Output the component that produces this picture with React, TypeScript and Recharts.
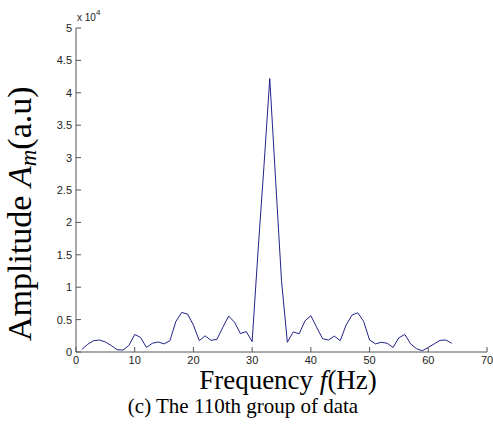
import { LineChart, Line, XAxis, YAxis } from "recharts";

// frequency bins (Hz) and amplitude values
const freqs = [
  1, 2, 3, 4, 5, 6, 7, 8, 9, 10, 11, 12, 13, 14, 15, 16, 17, 18, 19, 20, 21, 22,
  23, 24, 25, 26, 27, 28, 29, 30, 31, 32, 33, 34, 35, 36, 37, 38, 39, 40, 41, 42,
  43, 44, 45, 46, 47, 48, 49, 50, 51, 52, 53, 54, 55, 56, 57, 58, 59, 60, 61, 62,
  63, 64,
];
const amps = [
  400, 1200, 1750, 1850, 1550, 1000, 350, 300, 1000, 2700, 2250, 700, 1350, 1550,
  1250, 1750, 4700, 6100, 5850, 4150, 1750, 2500, 1800, 1950, 3800, 5550, 4600,
  2850, 3150, 1600, 15500, 28500, 42200, 26500, 11000, 1500, 3100, 2800, 4800,
  5600, 3800, 2050, 1850, 2450, 1750, 4150, 5700, 6050, 4700, 1850, 1250, 1500,
  1350, 700, 2200, 2700, 1250, 500, 200, 700, 1250, 1800, 1850, 1350,
];
const xTicks = [0, 10, 20, 30, 40, 50, 60, 70];
const yTicks = [0, 5000, 10000, 15000, 20000, 25000, 30000, 35000, 40000, 45000, 50000];

const data = freqs.map((f, i) => ({ freq: f, amp: amps[i] }));

const AXIS = "#555";
const TXT = "#222";
const TICK = 5;
const GAP = 4;
const tickFont = { fontFamily: "Liberation Sans, Arial, sans-serif", fontSize: 11 };
const serif = "Liberation Serif, Times New Roman, serif";

const BottomTick = (props: any) => {
  const { x, y, payload } = props;
  return (
    <g>
      <line x1={x} x2={x} y1={y - GAP} y2={y - GAP - TICK} stroke={AXIS} />
      <text x={x} y={y} dy="0.71em" textAnchor="middle" fill={TXT} style={tickFont}>
        {payload.value}
      </text>
    </g>
  );
};

const LeftTick = (props: any) => {
  const { x, y, payload } = props;
  return (
    <g>
      <line x1={x + GAP} x2={x + GAP + TICK} y1={y} y2={y} stroke={AXIS} />
      <text x={x} y={y} dy="0.36em" textAnchor="end" fill={TXT} style={tickFont}>
        {payload.value / 10000}
      </text>
    </g>
  );
};

const TopTick = (props: any) => {
  const { x, y } = props;
  return <line x1={x} x2={x} y1={y} y2={y + TICK} stroke={AXIS} />;
};

const RightTick = (props: any) => {
  const { x, y } = props;
  return <line x1={x} x2={x - TICK} y1={y} y2={y} stroke={AXIS} />;
};

export default function App() {
  return (
    <div style={{ position: "absolute", left: 0, top: 0, width: 493, height: 430, background: "#fff" }}>
      <LineChart
        width={493}
        height={430}
        data={data}
        margin={{ top: 28, right: 6, bottom: 0, left: 0 }}
      >
        <XAxis
          dataKey="freq"
          type="number"
          domain={[0, 70]}
          ticks={xTicks}
          tickSize={0}
          tickMargin={GAP}
          tickLine={false}
          tick={<BottomTick />}
          axisLine={{ stroke: AXIS }}
          height={78}
          interval={0}
        />
        <XAxis
          xAxisId="top"
          orientation="top"
          type="number"
          domain={[0, 70]}
          ticks={xTicks}
          tickSize={0}
          tickMargin={0}
          tickLine={false}
          tick={<TopTick />}
          axisLine={{ stroke: AXIS }}
          height={0}
          interval={0}
        />
        <YAxis
          type="number"
          domain={[0, 50000]}
          ticks={yTicks}
          tickSize={0}
          tickMargin={GAP}
          tickLine={false}
          tick={<LeftTick />}
          axisLine={{ stroke: AXIS }}
          width={76}
          interval={0}
        />
        <YAxis
          yAxisId="right"
          orientation="right"
          type="number"
          domain={[0, 50000]}
          ticks={yTicks}
          tickSize={0}
          tickMargin={0}
          tickLine={false}
          tick={<RightTick />}
          axisLine={{ stroke: AXIS }}
          width={0}
          interval={0}
        />
        <Line
          type="linear"
          dataKey="amp"
          stroke="#22228a"
          strokeWidth={1}
          dot={false}
          isAnimationActive={false}
        />
      </LineChart>
      <svg
        width={493}
        height={430}
        style={{ position: "absolute", left: 0, top: 0, pointerEvents: "none" }}
      >
        <text x={77} y={21} fill={TXT} style={{ fontFamily: "Liberation Sans, Arial, sans-serif", fontSize: 10 }}>
          x 10
          <tspan dy={-6} fontSize={8}>4</tspan>
        </text>
        <text
          x={288}
          y={389}
          textAnchor="middle"
          fill="#000"
          style={{ fontFamily: serif, fontSize: 27 }}
        >
          Frequency <tspan fontStyle="italic">f</tspan>(Hz)
        </text>
        <text
          x={243}
          y={413}
          textAnchor="middle"
          fill="#000"
          style={{ fontFamily: serif, fontSize: 21 }}
        >
          (c) The 110th group of data
        </text>
        <text
          transform="translate(31,341) rotate(-90)"
          x={0}
          y={0}
          textAnchor="start"
          fill="#000"
          style={{ fontFamily: serif, fontSize: 34 }}
        >
          Amplitude <tspan fontStyle="italic">A</tspan>
          <tspan fontStyle="italic" fontSize={23} dy={5}>m</tspan>
          <tspan dy={-5}>(a.u)</tspan>
        </text>
      </svg>
    </div>
  );
}
